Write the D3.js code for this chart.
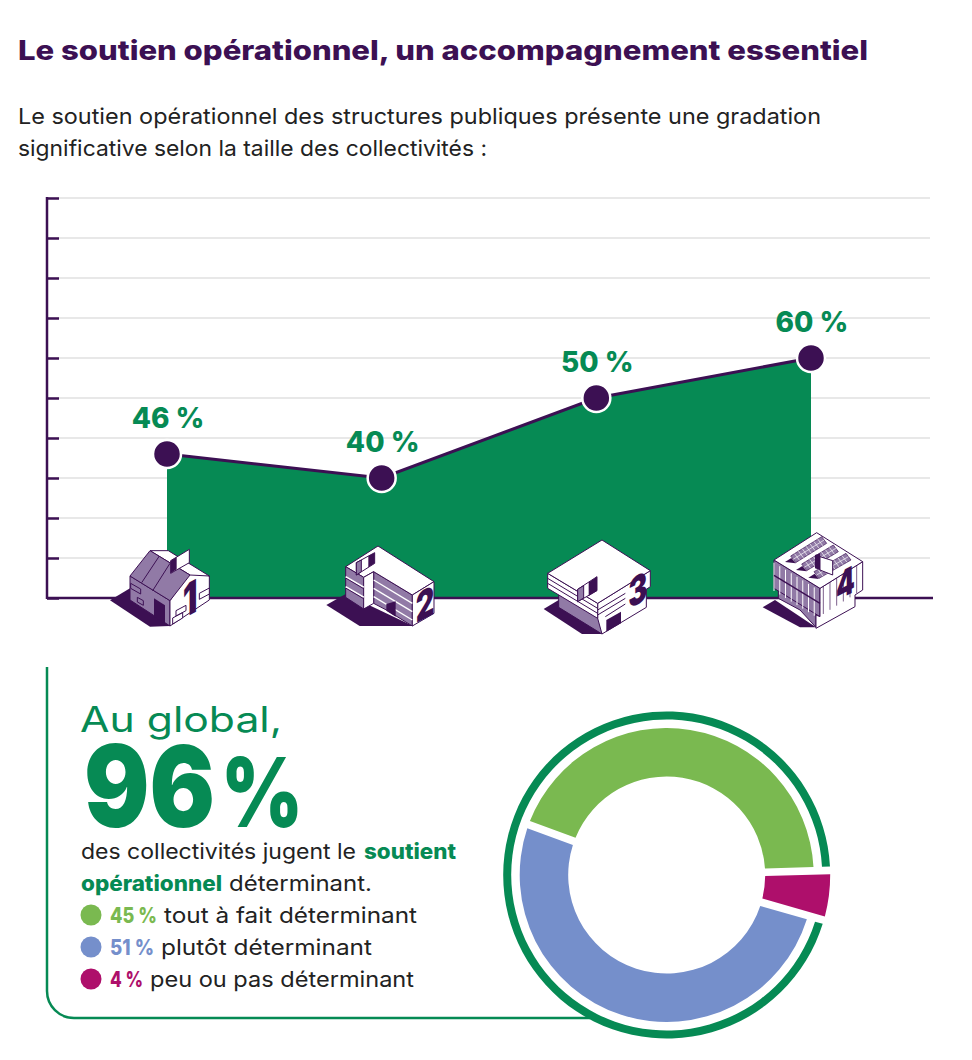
<!DOCTYPE html>
<html lang="fr">
<head>
<meta charset="utf-8">
<title>Le soutien opérationnel</title>
<script src="https://cdn.jsdelivr.net/npm/d3@7"></script>
<style>
  html, body { margin: 0; padding: 0; background: #fff; }
  svg { display: block; }
  text { font-family: Inter, "Noto Sans", sans-serif; }
</style>
</head>
<body>
<div id="chart"></div>
<script>
// Donnees
var categories = [1, 2, 3, 4];
// hauteurs telles que dessinees sur l'echelle (le graphique d'origine ne suit pas ses etiquettes)
var plotted = [36, 30, 50, 60];
var pointLabels = ["46 %", "40 %", "50 %", "60 %"];
var yTicks = [0, 10, 20, 30, 40, 50, 60, 70, 80, 90, 100];

var donutNames = ["tout à fait déterminant", "plutôt déterminant", "peu ou pas déterminant"];
var donutLabels = ["45 %", "51 %", "4 %"];
var donutShares = [44, 51.1, 4.9];
var donutColors = ["#7ab950", "#758fcb", "#ae0f6b"];

var purple = "#3c1053";
var green = "#068a54";
var mauve = "#917aa6";

var svg = d3.select("#chart").append("svg")
    .attr("width", 972)
    .attr("height", 1060);

function addText(str, x, y, size, weight, color, len) {
    var t = svg.append("text")
        .attr("x", x)
        .attr("y", y)
        .attr("font-size", size)
        .attr("font-weight", weight)
        .attr("fill", color)
        .text(str);
    if (len) t.attr("textLength", len).attr("lengthAdjust", "spacingAndGlyphs");
    return t;
}

// Titre et intro
addText("Le soutien opérationnel, un accompagnement essentiel", 18, 60, 27, 800, purple, 850);
addText("Le soutien opérationnel des structures publiques présente une gradation", 18, 124, 22, 400, "#222", 803);
addText("significative selon la taille des collectivités :", 18, 156, 22, 400, "#222", 469);

// Echelles
var x = d3.scalePoint().domain(categories).range([167, 811]);
var y = d3.scaleLinear().domain([0, 100]).range([598, 198]);

// Grille
svg.append("g").selectAll("line")
    .data(yTicks.slice(1))
    .join("line")
    .attr("x1", 47)
    .attr("x2", 930)
    .attr("y1", function (d) { return y(d); })
    .attr("y2", function (d) { return y(d); })
    .attr("stroke", "#e8e8e8")
    .attr("stroke-width", 2);

// Aire
var rows = categories.map(function (c, i) { return { c: c, v: plotted[i], label: pointLabels[i] }; });
var area = d3.area()
    .x(function (d) { return x(d.c); })
    .y0(y(0))
    .y1(function (d) { return y(d.v); });
svg.append("path").datum(rows).attr("d", area).attr("fill", green);

var line = d3.line()
    .x(function (d) { return x(d.c); })
    .y(function (d) { return y(d.v); });
svg.append("path").datum(rows).attr("d", line)
    .attr("fill", "none")
    .attr("stroke", purple)
    .attr("stroke-width", 3);

// Axe Y et ligne de base
var axis = svg.append("g")
    .attr("transform", "translate(47,0)")
    .call(d3.axisRight(y).tickValues(yTicks).tickSize(12).tickFormat(""));
axis.selectAll("path").remove();
axis.selectAll("line").attr("stroke", purple).attr("stroke-width", 2.5);
svg.append("line").attr("x1", 47).attr("x2", 47).attr("y1", y(100) - 1).attr("y2", y(0) + 1)
    .attr("stroke", purple).attr("stroke-width", 2.5);
svg.append("line").attr("x1", 47).attr("x2", 933).attr("y1", y(0)).attr("y2", y(0))
    .attr("stroke", purple).attr("stroke-width", 2.5);

// Points et etiquettes
svg.append("g").selectAll("circle")
    .data(rows)
    .join("circle")
    .attr("cx", function (d) { return x(d.c); })
    .attr("cy", function (d) { return y(d.v); })
    .attr("r", 14)
    .attr("fill", purple)
    .attr("stroke", "#fff")
    .attr("stroke-width", 2.5);
svg.append("g").selectAll("text")
    .data(rows)
    .join("text")
    .attr("x", function (d) { return x(d.c) + 1; })
    .attr("y", function (d) { return y(d.v) - 26; })
    .attr("text-anchor", "middle")
    .attr("font-size", 28)
    .attr("font-weight", 800)
    .attr("fill", green)
    .text(function (d) { return d.label; });

// Pictos batiments (coordonnees locales, echelle 3x)
function poly(g, pts, fill, sw) {
    g.append("polygon")
        .attr("points", pts)
        .attr("fill", fill)
        .attr("stroke", purple)
        .attr("stroke-width", sw === undefined ? 3 : sw)
        .attr("stroke-linejoin", "round");
}
function seg(g, a, b, c, d, color, sw) {
    g.append("line").attr("x1", a).attr("y1", b).attr("x2", c).attr("y2", d)
        .attr("stroke", color || purple).attr("stroke-width", sw || 3);
}
function digit(g, str, px, py, size) {
    g.append("text")
        .attr("transform", "translate(" + px + "," + py + ") skewY(-28) scale(0.72,1)")
        .attr("font-size", size)
        .attr("font-weight", 900)
        .attr("fill", purple)
        .text(str);
}
function icon(c, ax) {
    return svg.append("g")
        .attr("transform", "translate(" + x(c) + "," + y(0) + ") scale(0.3333) translate(" + (-ax) + ",-234)");
}

// 1 : maison
var i1 = icon(1, 201);
poly(i1, "30,241 90,205 210,318 150,320", purple, 0);
poly(i1, "90,168 210,242 210,318 90,240", mauve);
poly(i1, "210,242 270,150 328,168 328,240 210,318", "#fff");
poly(i1, "150,92 205,92 328,168 270,165", "#fff");
poly(i1, "150,92 270,165 210,242 90,168", mauve);
seg(i1, 178, 108, 125, 188);
seg(i1, 210, 130, 158, 212);
poly(i1, "212,122 268,88 268,128 212,160", "#fff");
poly(i1, "212,122 230,111 230,148 212,160", purple, 0);
poly(i1, "92,190 122,207 122,222 92,205", mauve);
poly(i1, "112,232 130,242 130,256 112,246", mauve);
poly(i1, "162,235 195,256 195,310 162,290", purple, 0);
poly(i1, "298,220 328,204 328,222 298,238", "#fff");
poly(i1, "228,272 258,256 258,272 228,288", "#fff");
poly(i1, "218,294 248,278 248,294 218,312", "#fff");
digit(i1, "1", 248, 296, 136);

// 2 : immeuble en L
var i2 = icon(2, 846);
poly(i2, "680,255 738,222 940,318 780,318", purple, 0);
poly(i2, "822,155 938,225 938,318 860,270 822,250", mauve);
poly(i2, "738,140 835,78 1003,185 938,225 822,155 792,172", "#fff");
poly(i2, "738,140 792,172 792,267 738,232", mauve);
poly(i2, "792,172 822,155 822,250 792,267", "#fff");
poly(i2, "938,225 1003,185 1003,280 938,318", "#fff");
[30, 60].forEach(function (d) {
    seg(i2, 738, 140 + d, 792, 172 + d, "#fff", 5);
    seg(i2, 738, 144 + d, 792, 176 + d);
});
[25, 50, 75].forEach(function (d) { seg(i2, 822, 155 + d, 938, 225 + d, "#fff", 4); });
poly(i2, "860,252 888,244 888,290 860,272", purple, 0);
poly(i2, "770,128 825,98 825,130 770,165", "#fff");
poly(i2, "770,128 785,120 785,155 770,165", mauve);
poly(i2, "806,108 825,98 825,130 806,142", purple, 0);
digit(i2, "2", 948, 310, 120);

// 3 : batiment bas
var i3 = icon(3, 198);
poly(i3, "40,267 85,240 215,342 155,342", purple, 0);
poly(i3, "85,222 215,298 215,342 85,262", mauve);
poly(i3, "202,250 360,152 360,200 348,208 348,262 215,342 202,295", "#fff");
poly(i3, "52,160 202,250 202,295 52,205", "#fff");
poly(i3, "52,160 215,60 360,152 202,250", "#fff");
seg(i3, 52, 175, 202, 265);
seg(i3, 52, 190, 202, 280);
seg(i3, 202, 270, 285, 220);
seg(i3, 202, 285, 285, 235);
seg(i3, 225, 290, 285, 252);
poly(i3, "142,208 200,170 200,212 142,245", "#fff");
poly(i3, "175,187 200,170 200,212 175,228", purple, 0);
poly(i3, "142,208 160,197 160,234 142,245", mauve);
poly(i3, "228,300 272,275 272,310 228,335", purple, 0);
digit(i3, "3", 294, 268, 120);

// 4 : batiment avec panneaux solaires
var i4 = icon(4, 843);
poly(i4, "698,262 735,240 858,322 810,322", purple, 0);
poly(i4, "745,205 858,275 858,322 810,270 745,235", mauve);
poly(i4, "732,120 870,205 870,290 732,205", mauve);
poly(i4, "870,205 998,125 998,210 975,225 975,260 858,325 858,285 870,290", "#fff");
poly(i4, "732,120 860,38 998,125 870,205", "#fff");
d3.range(0, 8).forEach(function (k) {
    seg(i4, 732 + k * 17.25, 128 + k * 10.6, 732 + k * 17.25, 213 + k * 10.6, "#fff", 3);
});
seg(i4, 732, 166, 870, 250, purple, 4);
d3.range(0, 6).forEach(function (k) {
    seg(i4, 880 + k * 20, 199 - k * 12.5, 880 + k * 20, 282 - k * 12.5, purple, 2);
});
// panneaux : trois bandes quadrillees
[[782, 108, 875, 50], [815, 132, 910, 75], [852, 155, 948, 100]].forEach(function (b) {
    poly(i4, [b[0], b[1], b[2], b[3], b[2] + 15, b[3] + 20, b[0] + 15, b[1] + 20].join(" "), mauve, 2);
    d3.range(1, 8).forEach(function (k) {
        var fx = b[0] + (b[2] - b[0]) * k / 8, fy = b[1] + (b[3] - b[1]) * k / 8;
        seg(i4, fx, fy, fx + 15, fy + 20, "#fff", 2);
    });
    seg(i4, b[0] + 7.5, b[1] + 10, b[2] + 7.5, b[3] + 10, "#fff", 2);
    poly(i4, [b[0] - 17, b[1] + 18, b[0] + 2, b[1] + 6, b[0] + 15, b[1] + 22].join(" "), purple, 0);
});
poly(i4, "855,105 870,100 870,150 855,145", purple, 0);
poly(i4, "870,110 908,122 908,165 870,150", "#fff");
digit(i4, "4", 918, 244, 112);

// Bloc texte
var frame = d3.path();
frame.moveTo(47, 667);
frame.lineTo(47, 991);
frame.arcTo(47, 1018, 74, 1018, 27);
frame.lineTo(590, 1018);
svg.append("path").attr("d", frame.toString()).attr("fill", "none").attr("stroke", green).attr("stroke-width", 2.5);

addText("Au global,", 80, 732, 35, 400, green, 202);
var big = addText("", 84, 827, 113, 900, green);
big.append("tspan").attr("textLength", 131).attr("lengthAdjust", "spacingAndGlyphs").text("96");
big.append("tspan").attr("x", 221).attr("font-size", 96).attr("textLength", 82)
    .attr("lengthAdjust", "spacingAndGlyphs").text("%");
addText("des collectivités jugent le", 81, 859, 21.5, 400, "#222", 275);
addText("soutient", 364, 859, 21.5, 800, green, 92);
addText("opérationnel", 81, 891, 21.5, 800, green, 141);
addText("déterminant.", 229, 891, 21.5, 400, "#222", 143);

// Legende
var legendY = d3.scalePoint().domain(donutNames).range([915, 979]);
var labelWidth = [47, 44, 33];
var nameX = [164, 161, 150];
var nameWidth = [253, 211, 264];
donutNames.forEach(function (name, i) {
    svg.append("circle")
        .attr("cx", 91)
        .attr("cy", legendY(name))
        .attr("r", 10.5)
        .attr("fill", donutColors[i]);
    addText(donutLabels[i], 110, legendY(name) + 8, 21.5, 800, donutColors[i], labelWidth[i]);
    addText(name, nameX[i], legendY(name) + 8, 21.5, 400, "#222", nameWidth[i]);
});

// Anneau (sens antihoraire depuis l'est)
var donut = svg.append("g").attr("transform", "translate(666.7,875)");
var startA = Math.PI / 2 - 1.6 * Math.PI / 180;
var pie = d3.pie().sort(null).value(function (d) { return d; })
    .startAngle(startA)
    .endAngle(startA - 2 * Math.PI);
var slices = pie(donutShares);
var gap = 7.7;
var arc = d3.arc()
    .padRadius(120)
    .padAngle(gap / 120)
    .innerRadius(98.5)
    .outerRadius(function (d) { return d.index === 2 ? 163.5 : 147; });
donut.selectAll("path.slice")
    .data(slices)
    .join("path")
    .attr("class", "slice")
    .attr("d", arc)
    .attr("fill", function (d, i) { return donutColors[i]; });

var ringArc = d3.arc()
    .padRadius(120)
    .padAngle(gap / 120)
    .innerRadius(155.5)
    .outerRadius(163.5);
donut.append("path")
    .attr("d", ringArc({ startAngle: slices[0].startAngle, endAngle: slices[1].endAngle }))
    .attr("fill", green);
</script>
</body>
</html>
